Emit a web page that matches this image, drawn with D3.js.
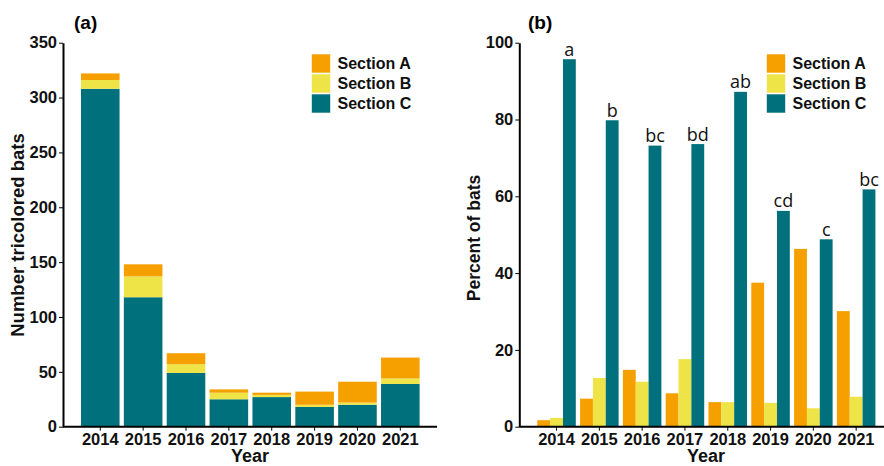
<!DOCTYPE html>
<html>
<head>
<meta charset="utf-8">
<script src="https://cdn.jsdelivr.net/npm/d3@7"></script>
<style>
  body { margin: 0; background: #fff; }
  text { font-family: "Liberation Sans", Arial, sans-serif; }
</style>
</head>
<body>
<script>
// data
const years = ['2014', '2015', '2016', '2017', '2018', '2019', '2020', '2021']
const sections = ['Section A', 'Section B', 'Section C']
const countA = [6, 11, 10, 3, 2, 12, 19, 19]
const countB = [8, 19, 8, 6, 2, 2, 2, 5]
const countC = [308, 118, 49, 25, 27, 18, 20, 39]
const pctA = [1.7, 7.3, 14.8, 8.7, 6.4, 37.5, 46.3, 30.1]
const pctB = [2.3, 12.7, 11.7, 17.6, 6.4, 6.2, 4.8, 7.8]
const pctC = [95.7, 79.8, 73.2, 73.6, 87.2, 56.2, 48.8, 61.8]
const sigLetters = ['a', 'b', 'bc', 'bd', 'ab', 'cd', 'c', 'bc']
const countTicks = [0, 50, 100, 150, 200, 250, 300, 350]
const pctTicks = [0, 20, 40, 60, 80, 100]

const colors = ['#F6A000', '#EEE347', '#00717C']

const w = 884
const h = 466

const svg = d3.select('body')
    .append('svg')
    .attr('width', w)
    .attr('height', h)

// shared y placement
const y0 = 426.7
const yTop = 42.7

// ---------- panel (a): stacked counts ----------
const xA = d3.scaleBand().domain(years).range([76.7, 423.9]).paddingInner(0.1).paddingOuter(0.1)
const yA = d3.scaleLinear().domain([0, 350]).range([y0, yTop])

const rowsA = years.map((yr, i) => ({ year: yr, 'Section C': countC[i], 'Section B': countB[i], 'Section A': countA[i] }))
const stack = d3.stack().keys(['Section C', 'Section B', 'Section A'])(rowsA)
const colorOf = d3.scaleOrdinal().domain(sections).range(colors)

const gA = svg.append('g')
gA.selectAll('g.layer')
    .data(stack)
    .enter()
    .append('g')
    .attr('fill', d => colorOf(d.key))
    .selectAll('rect')
    .data(d => d)
    .enter()
    .append('rect')
    .attr('x', d => xA(d.data.year))
    .attr('width', xA.bandwidth())
    .attr('y', d => yA(d[1]))
    .attr('height', d => yA(d[0]) - yA(d[1]))

function styleAxis(g) {
    g.selectAll('path, line').attr('stroke', '#000')
    g.select('.domain').attr('stroke-width', 2)
    g.selectAll('.tick line').attr('stroke-width', 1)
    g.selectAll('text')
        .style('font-family', '"Liberation Sans", Arial, sans-serif')
        .style('font-weight', 'bold')
        .style('font-size', '16.5px')
        .attr('fill', '#111')
}

svg.append('g')
    .attr('transform', 'translate(63,0)')
    .call(d3.axisLeft(yA).tickValues(countTicks).tickSize(4).tickPadding(2).tickSizeOuter(0))
    .call(styleAxis)

const xAxisA = svg.append('g')
    .attr('transform', `translate(0,${y0})`)
    .call(d3.axisBottom(xA).tickSize(4).tickPadding(3).tickSizeOuter(0))
    .call(styleAxis)
xAxisA.select('.domain').attr('d', `M63,0H437`)

// titles (a)
svg.append('text')
    .attr('x', 74).attr('y', 28.5)
    .style('font-size', '19px').style('font-weight', 'bold')
    .text('(a)')
svg.append('text')
    .attr('transform', 'translate(24,235) rotate(-90)')
    .attr('text-anchor', 'middle')
    .style('font-size', '18.5px').style('font-weight', 'bold')
    .attr('fill', '#111')
    .text('Number tricolored bats')
svg.append('text')
    .attr('x', 250).attr('y', 462)
    .attr('text-anchor', 'middle')
    .style('font-size', '18px').style('font-weight', 'bold')
    .attr('fill', '#111')
    .text('Year')

// ---------- panel (b): grouped percents ----------
const xB = d3.scaleBand().domain(years).range([533, 879.7]).paddingInner(0.1).paddingOuter(0.1)
const xSub = d3.scaleBand().domain(sections).range([0, xB.bandwidth()])
const yB = d3.scaleLinear().domain([0, 100]).range([y0, yTop])

const rowsB = years.map((yr, i) => ({ year: yr, vals: [pctA[i], pctB[i], pctC[i]], sig: sigLetters[i] }))

const groups = svg.append('g')
    .selectAll('g')
    .data(rowsB)
    .enter()
    .append('g')
    .attr('transform', d => `translate(${xB(d.year)},0)`)

groups.selectAll('rect')
    .data(d => d.vals.map((v, j) => ({ key: sections[j], v: v })))
    .enter()
    .append('rect')
    .attr('x', d => xSub(d.key))
    .attr('width', xSub.bandwidth())
    .attr('y', d => yB(d.v))
    .attr('height', d => y0 - yB(d.v))
    .attr('fill', d => colorOf(d.key))

// significance letters over section C bars
groups.append('text')
    .attr('x', xSub('Section C') + xSub.bandwidth() / 2)
    .attr('y', d => yB(d.vals[2]) - 3.5)
    .attr('text-anchor', 'middle')
    .style('font-family', '"Open Sans", "Noto Sans", sans-serif')
    .style('font-size', '18px')
    .attr('fill', '#111')
    .text(d => d.sig)

svg.append('g')
    .attr('transform', 'translate(519.3,0)')
    .call(d3.axisLeft(yB).tickValues(pctTicks).tickSize(4).tickPadding(2).tickSizeOuter(0))
    .call(styleAxis)

const xAxisB = svg.append('g')
    .attr('transform', `translate(0,${y0})`)
    .call(d3.axisBottom(xB).tickSize(4).tickPadding(3).tickSizeOuter(0))
    .call(styleAxis)
xAxisB.select('.domain').attr('d', `M519.3,0H884`)

svg.append('text')
    .attr('x', 528).attr('y', 28.5)
    .style('font-size', '19px').style('font-weight', 'bold')
    .text('(b)')
svg.append('text')
    .attr('transform', 'translate(480,238) rotate(-90)')
    .attr('text-anchor', 'middle')
    .style('font-size', '17.5px').style('font-weight', 'bold')
    .attr('fill', '#111')
    .text('Percent of bats')
svg.append('text')
    .attr('x', 706).attr('y', 462)
    .attr('text-anchor', 'middle')
    .style('font-size', '18px').style('font-weight', 'bold')
    .attr('fill', '#111')
    .text('Year')

// ---------- legends ----------
function legend(x, y) {
    const g = svg.append('g').attr('transform', `translate(${x},${y})`)
    const item = g.selectAll('g')
        .data(sections)
        .enter()
        .append('g')
        .attr('transform', (d, i) => `translate(0,${i * 20})`)
    item.append('rect')
        .attr('width', 19).attr('height', 19)
        .attr('fill', d => colorOf(d))
        .attr('stroke', '#fff').attr('stroke-width', 0.6)
    item.append('text')
        .attr('x', 26).attr('y', 9.5).attr('dy', '0.36em')
        .style('font-size', '16px').style('font-weight', 'bold')
        .attr('fill', '#111')
        .text(d => d)
}
legend(311.5, 54)
legend(766.5, 54)
</script>
</body>
</html>
